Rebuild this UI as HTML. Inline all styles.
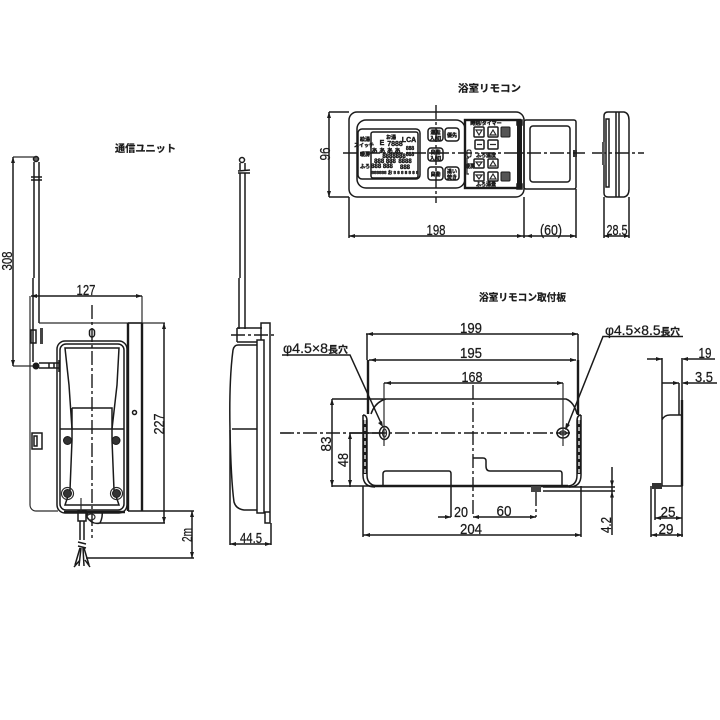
<!DOCTYPE html>
<html><head><meta charset="utf-8"><style>
html,body{margin:0;padding:0;background:#fff}
svg{display:block}
text{fill:#1a1a1a;stroke:#1a1a1a;stroke-width:.25;font-family:"Liberation Sans","Noto Sans CJK JP",sans-serif}
.d{font-size:15px;text-anchor:middle}
.j{font-size:10px;font-weight:bold}
.t{font-size:5px;font-weight:bold;text-anchor:middle;stroke-width:.4}
.n{font-size:13.500px}
.s{font-size:9.500px;font-weight:bold}
.k{fill:none;stroke:#1a1a1a;stroke-width:1.500}
.m{fill:none;stroke:#2a2a2a;stroke-width:1.200}
.h{fill:none;stroke:#1a1a1a;stroke-width:2.400}
.c{fill:none;stroke:#1a1a1a;stroke-width:1.400;stroke-dasharray:14 3 3 3}
.a{fill:#1a1a1a}
</style></head><body>
<svg width="720" height="720" viewBox="0 0 720 720" xmlns="http://www.w3.org/2000/svg">
<rect width="720" height="720" fill="#fff"/>

<!-- TITLES -->
<text class="j" x="115" y="152" textLength="61" lengthAdjust="spacingAndGlyphs">通信ユニット</text>
<text class="j" x="458" y="92" textLength="63" lengthAdjust="spacingAndGlyphs">浴室リモコン</text>
<text class="j" x="479" y="301" textLength="87" lengthAdjust="spacingAndGlyphs">浴室リモコン取付板</text>

<!-- LEFT UNIT: FRONT -->
<g>
<circle cx="36" cy="159" r="2.500" fill="#666" stroke="#1a1a1a" stroke-width="1.500"/>
<path class="k" d="M34 162V278M39 162V278M33 278V362M39 278V323M31 177L42 177M31 180L42 180"/>
<path class="m" d="M13 157H36M13 366H36M30 296V505a6 6 0 0 0 6 6H58M39 323H165M142 296V323"/>
<path class="k" d="M13 157V366M31 296H142"/>
<path class="a" d="M13 157l-2 6h4zM13 366l-2-6h4zM31 296l6-2v4zM142 296l-6-2v4z"/>
<rect x="31" y="330" width="5" height="13" class="k"/>
<rect x="40" y="328" width="3" height="16" fill="#444"/>
<circle cx="36" cy="366" r="3.500" fill="#1a1a1a"/>
<path class="k" d="M39 363H59M39 368H59M49 363V368M54 363V368M59 360V372"/>
<path class="h" d="M128 323V511M142 323V511"/>
<path class="k" d="M128 511H142M128 323H142"/>
<circle cx="134.500" cy="412.500" r="2" class="k"/>
<rect x="57" y="341" width="70" height="172" rx="8" class="k"/>
<rect x="60" y="344" width="64" height="166" rx="6" class="k"/>
<path class="k" d="M65 348H119L117 385L112 429V440L114 490L119 505H65L70 490L72 440V429L69 385Z"/>
<path class="k" d="M60 429H124M72 408H112V429M72 408V429"/>
<g fill="#333" stroke="#1a1a1a"><circle cx="67.500" cy="440.500" r="4"/><circle cx="116" cy="440.500" r="4"/><circle cx="67.500" cy="493.500" r="4"/><circle cx="116.500" cy="493.500" r="4"/></g>
<circle cx="67.500" cy="493.500" r="6" class="m"/><circle cx="116.500" cy="493.500" r="6" class="m"/>
<path class="k" d="M32 433H42V449H32ZM34 436H37V446H34Z"/>
<path class="c" d="M92 305V538"/>
<rect x="89.500" y="329" width="5" height="8" rx="2.500" class="k"/>
<path class="h" d="M64 512H125"/>
<path class="k" d="M78 511H86V521H78ZM88 511L87 517Q92 525 100 523Q103 517 102 511"/>
<ellipse cx="91" cy="517" rx="4" ry="3" class="m"/>
<path class="k" d="M80 521V540M84 521V540M78 542L86 544M78 546L86 548"/>
<path class="k" d="M80 548L75 565M81 548L79 566M83 548L84 566M84 548L89 565M74 567L80 560M90 567L85 560"/>
<path class="m" d="M81 498V511"/>
<path class="k" d="M100 523H165M164 323V523M142 511H194M86 558H194M192 511V558"/>
<path class="a" d="M164 323l-2 6h4zM164 523l-2-6h4zM192 511l-2 6h4zM192 558l-2-6h4z"/>
<text class="d" transform="translate(12,261) rotate(-90)" textLength="19" lengthAdjust="spacingAndGlyphs">308</text>
<text class="d" x="86" y="295" textLength="19" lengthAdjust="spacingAndGlyphs">127</text>
<text class="d" transform="translate(164,424) rotate(-90)" textLength="21" lengthAdjust="spacingAndGlyphs">227</text>
<text class="d" transform="translate(192,535) rotate(-90)" textLength="14" lengthAdjust="spacingAndGlyphs">2m</text>
</g>

<!-- LEFT UNIT: SIDE -->
<g>
<circle cx="242" cy="160" r="2.500" class="k"/>
<path class="k" d="M240 163V170M245 163V170M238 171L250 170M238 173L250 173"/>
<path class="k" d="M240 173V278M245 173V278M239 278V329M245 278V329"/>
<path class="k" d="M237 328H262M237 342H257M237 328V342"/>
<path class="k" d="M261 340V323H270V512H264M265 512V523H270V512"/>
<rect x="257" y="340" width="7" height="173" class="k"/>
<path class="k" d="M257 345H238Q234 345 233 350Q229 380 230 430Q231 480 234 502Q236 509 244 510H257"/>
<path class="k" d="M232 429H257M230 430V545M271 523V545"/>
<path class="k" d="M230 544H271"/>
<path class="a" d="M230 544l6-2v4zM271 544l-6-2v4z"/>
<path class="c" d="M231 335H276"/>
<path class="m" d="M281 433H291"/>
<text class="d" x="251" y="543" textLength="22" lengthAdjust="spacingAndGlyphs">44.5</text>
</g>

<!-- REMOTE FRONT -->
<g>
<rect x="349" y="112" width="175" height="85" rx="8" class="k"/>
<rect x="357" y="120" width="108" height="68" rx="9" class="k"/>
<rect x="358" y="129" width="62" height="50" rx="4" class="k"/>
<rect x="371" y="132" width="47" height="46" rx="2" class="k"/>
<rect x="465" y="120" width="55" height="68" class="h"/>
<rect x="517" y="120" width="5" height="68" fill="#1a1a1a"/>
<rect x="517" y="120" width="5" height="5" class="k"/>
<rect x="517" y="184" width="5" height="5" class="k"/>
<rect x="524" y="120" width="52" height="69" rx="2" class="k"/>
<rect x="530" y="126" width="40" height="56" rx="3" class="k"/>
<rect x="573" y="150" width="4" height="7" fill="#333"/>
<rect x="467" y="150" width="4" height="7" rx="1.500" fill="#fff" stroke="#1a1a1a"/>

<!-- display text -->
<text class="t" x="365" y="141">給湯</text><text class="t" x="364" y="147">スイッチ</text>
<text class="t" x="365" y="156">暖房</text><text class="t" x="365" y="168">ふろ</text>
<text class="t" x="391" y="139">お湯</text>
<text class="t" x="382" y="145" style="font-size:7px">E</text><text class="t" x="395" y="146" style="font-size:7px">7888</text>
<text class="t" x="409" y="142" style="font-size:7px">LCA</text>
<text class="t" x="386" y="153" style="font-size:6px">あ あ あ あ</text><text class="t" x="410" y="150">888</text>
<text class="t" x="394" y="158" style="font-size:6px">8888888</text><text class="t" x="410" y="156">888</text>
<text class="t" x="385" y="163" style="font-size:6px">888 888</text><text class="t" x="405" y="163" style="font-size:6px">8888</text>
<text class="t" x="382" y="168" style="font-size:6px">888 888</text><text class="t" x="405" y="169" style="font-size:6px">888</text>
<text class="t" x="395" y="174" style="font-size:4.500px">888888 お 8 8 8 8 8 8 8</text>

<!-- left buttons -->
<g fill="#fff" stroke="#1a1a1a" stroke-width="1.500">
<rect x="428" y="128" width="15" height="13" rx="3"/><rect x="445" y="128" width="14" height="13" rx="3"/>
<rect x="428" y="148" width="15" height="13" rx="3"/>
<rect x="428" y="167" width="15" height="13" rx="3"/><rect x="445" y="167" width="14" height="13" rx="3"/>
</g>
<text class="t" x="435.500" y="134">運転</text><text class="t" x="435.500" y="140">入/切</text>
<text class="t" x="452" y="137">優先</text>
<text class="t" x="435.500" y="154">自動</text><text class="t" x="435.500" y="160">入/切</text>
<text class="t" x="435.500" y="176">自動</text>
<text class="t" x="452" y="173">追い</text><text class="t" x="452" y="179">焚き</text>

<!-- right buttons -->
<g fill="#fff" stroke="#1a1a1a" stroke-width="1.500">
<rect x="474" y="127" width="10" height="10" rx="1"/><rect x="488" y="127" width="10" height="10" rx="1"/>
<rect x="475" y="140" width="9" height="9" rx="1"/><rect x="488" y="140" width="10" height="9" rx="1"/>
<rect x="474" y="159" width="10" height="9" rx="1"/><rect x="488" y="159" width="10" height="9" rx="1"/>
<rect x="474" y="172" width="10" height="9" rx="1"/><rect x="488" y="172" width="10" height="9" rx="1"/>
</g>
<rect x="501" y="127" width="9" height="10" rx="1" fill="#555" stroke="#1a1a1a"/>
<rect x="501" y="172" width="9" height="9" rx="1" fill="#555" stroke="#1a1a1a"/>
<path class="m" d="M476 130H482L479 135ZM490 135H496L493 130ZM476 162H482L479 166ZM490 166H496L493 161ZM476 175H482L479 179ZM490 179H496L493 174Z"/>
<path class="m" stroke-width="1.500" d="M477 144.500H482M490 144.500H496"/>
<text class="t" x="486" y="125">時刻/タイマー</text>
<text class="t" x="486" y="157">ふろ温度</text>
<text class="t" x="486" y="186">ふろ湯量</text>
<text class="t" x="470" y="168">暖房</text>
<path class="m" d="M469 158H467V174H469"/>

<path class="c" d="M343 153H585" stroke-width="1.600"/>
<path class="c" d="M592 153H644" stroke-width="1.600"/>
<path class="c" d="M436 105V203"/>
<!-- side view -->
<path class="k" d="M604 116Q604 112 608 112H624Q629 113 629 120V189Q629 196 624 197H608Q604 197 604 193Z"/>
<path class="k" d="M616 112V197M619 112V197"/>
<path class="k" d="M606 119H609V187H606ZM606 119V187"/>
<rect x="602" y="142" width="2.500" height="23" fill="#555"/>
<!-- dims -->
<path class="k" d="M329 112V197M329 112H349M329 197H349M349 197V238M524 197V238M576 189V238M604 197V238M629 197V238"/>
<path class="k" d="M349 236H576M604 236H629"/>
<path class="a" d="M329 112l-2 6h4zM329 197l-2-6h4zM349 236l6-2v4zM523 236l-6-2v4zM526 236l6-2v4zM576 236l-6-2v4zM604 236l5-2v4zM629 236l-5-2v4z"/>
<text class="d" transform="translate(330,154) rotate(-90)" textLength="13" lengthAdjust="spacingAndGlyphs">96</text>
<text class="d" x="436" y="235" textLength="19" lengthAdjust="spacingAndGlyphs">198</text>
<text class="d" x="551" y="235" textLength="22" lengthAdjust="spacingAndGlyphs">(60)</text>
<text class="d" x="617" y="235" textLength="21" lengthAdjust="spacingAndGlyphs">28.5</text>
</g>

<!-- BRACKET FRONT -->
<g>
<path class="k" d="M363 415V475Q363 487 375 487M581 415V475Q581 487 569 487"/>
<path class="k" d="M363 415Q367 415 367 421V475Q367 486 379 486M581 415Q577 415 577 421V475Q577 486 567 486"/>
<path d="M365 420V474M579 420V474" stroke="#1a1a1a" stroke-width="3" fill="none"/>
<path d="M365 420V474M579 420V474" stroke="#fff" stroke-width="1.300" stroke-dasharray="4 3" fill="none"/>
<path class="h" d="M368 360V414M578 360V415"/>
<path class="k" d="M367 334V360M578 334V360"/>
<path class="k" d="M332 399H566Q574 402 577 414M371 414Q375 402 386 399"/>
<path class="h" d="M372 486H568"/>
<path class="k" d="M383 486V474Q383 471 386 471H449Q451 471 451 474V486"/>
<path class="k" d="M473 458H483Q486 458 486 461V466Q486 471 490 471H560Q562 471 562 474V486"/>
<ellipse cx="384.500" cy="433" rx="5" ry="6.500" class="k"/><ellipse cx="384.500" cy="433" rx="2" ry="4" class="m"/>
<ellipse cx="563" cy="433" rx="6" ry="5" class="k"/><ellipse cx="563" cy="433" rx="3.500" ry="2" class="m"/>
<rect x="531" y="486" width="10" height="6" fill="#444"/>
<path class="c" d="M280 433H572" stroke-dasharray="12 3 3 3"/>
<path class="c" d="M473 385V515" stroke-dasharray="10 3 3 3"/>
<path class="m" d="M384 383V446M563 383V446"/>
<path class="c" d="M536 492V517"/>
<!-- dims -->
<path class="k" d="M366 334H578M369 360H576M384 383H563M332 399V487M350 433V487M332 486H372M350 433H384"/>
<path class="k" d="M363 486V537M363 535H581M581 486V537M451 486V517M473 517H536M438 517H451"/>
<path class="a" d="M367 334l6-2v4zM578 334l-6-2v4zM370 360l6-2v4zM576 360l-6-2v4zM385 383l6-2v4zM563 383l-6-2v4zM332 399l-2 6h4zM332 486l-2-6h4zM350 433l-2 6h4zM350 486l-2-6h4zM451 517l-6-2v4zM473 517l6-2v4zM536 517l-6-2v4zM364 535l6-2v4zM581 535l-6-2v4z"/>
<text class="d" x="471" y="333" textLength="22" lengthAdjust="spacingAndGlyphs">199</text>
<text class="d" x="471" y="358" textLength="22" lengthAdjust="spacingAndGlyphs">195</text>
<text class="d" x="472" y="382" textLength="21" lengthAdjust="spacingAndGlyphs">168</text>
<text class="d" transform="translate(331,444) rotate(-90)" textLength="15" lengthAdjust="spacingAndGlyphs">83</text>
<text class="d" transform="translate(348,460) rotate(-90)" textLength="14" lengthAdjust="spacingAndGlyphs">48</text>
<text class="d" x="461" y="517" textLength="14" lengthAdjust="spacingAndGlyphs">20</text>
<text class="d" x="504" y="516" textLength="15" lengthAdjust="spacingAndGlyphs">60</text>
<text class="d" x="471" y="534" textLength="22" lengthAdjust="spacingAndGlyphs">204</text>
<text class="d" transform="translate(611,525) rotate(-90)" textLength="16" lengthAdjust="spacingAndGlyphs">4.2</text>
<!-- leaders -->
<path class="k" d="M282 355H350L381 423M683 336.500H603L567 427"/>
<path class="a" d="M383 427l-5-4l4-2zM565 430l1-7l4 2z"/>
<text x="283" y="353" textLength="65" lengthAdjust="spacingAndGlyphs" class="n">φ4.5×8<tspan class="s">長穴</tspan></text>
<text x="605" y="335" textLength="75" lengthAdjust="spacingAndGlyphs" class="n">φ4.5×8.5<tspan class="s">長穴</tspan></text>
<!-- 4.2 dim -->
<path class="k" d="M543 487H615M543 491H615M612 467V535"/>
<path class="a" d="M612 486.500l-2-6h4zM612 491.500l-2 6h4z"/>
</g>

<!-- BRACKET SIDE -->
<g>
<path class="k" d="M662 358V486M682 358V486H662M662 420Q664 415 670 415H682M679 383V415"/>
<path class="h" d="M682 400V486" stroke-width="1.800"/>
<path class="k" d="M647 359H662M683 359H715M662 383H679M683 383H717"/>
<path class="a" d="M662 359l-6-2v4zM682 359l6-2v4zM679 383l-6-2v4zM682 383l6-2v4z"/>
<text class="d" x="705" y="358" textLength="13" lengthAdjust="spacingAndGlyphs">19</text>
<text class="d" x="704" y="382" textLength="18" lengthAdjust="spacingAndGlyphs">3.5</text>
<rect x="652" y="483" width="10" height="6" fill="#333"/>
<path class="k" d="M655 489V520M651 486V537M682 486V537M655 518H682M651 535H683"/>
<path class="a" d="M655 518l6-2v4zM682 518l-6-2v4zM651 535l6-2v4zM683 535l-6-2v4z"/>
<text class="d" x="668" y="517" textLength="15" lengthAdjust="spacingAndGlyphs">25</text>
<text class="d" x="666" y="534" textLength="15" lengthAdjust="spacingAndGlyphs">29</text>
</g>
</svg>
</body></html>
